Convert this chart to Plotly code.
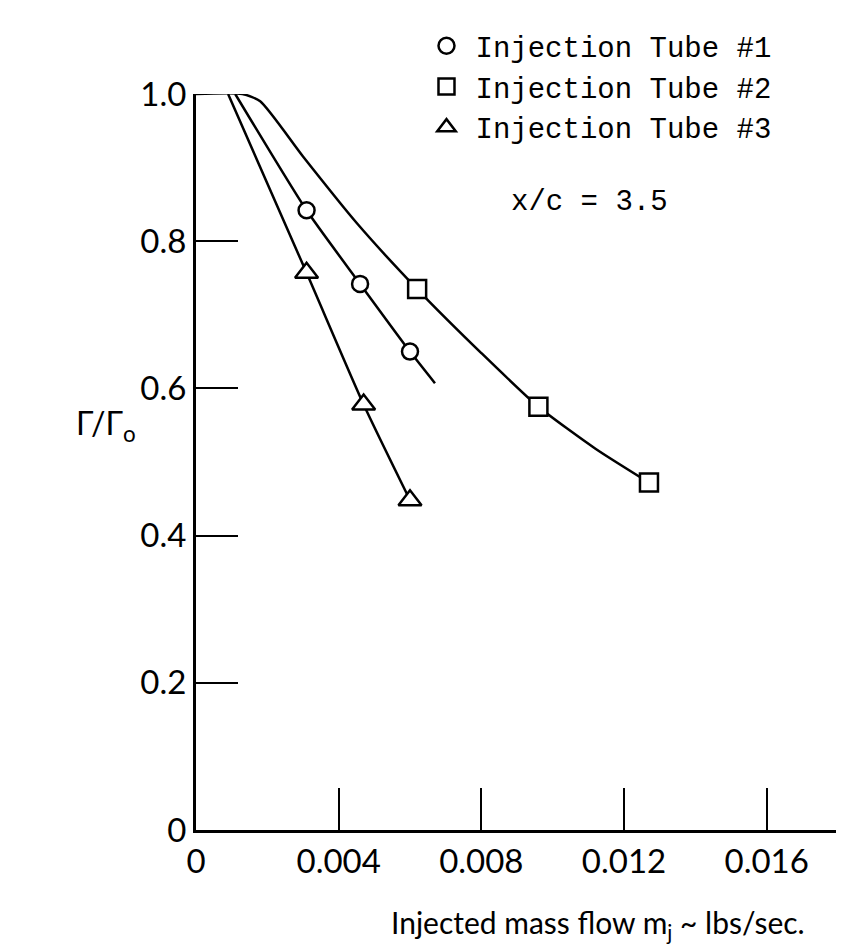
import plotly.graph_objects as go

# ---- data ----
tube1_x = [0.0031, 0.0046, 0.0060]
tube1_y = [0.842, 0.742, 0.650]
tube2_x = [0.0062, 0.0096, 0.0127]
tube2_y = [0.735, 0.575, 0.472]
tube3_x = [0.0031, 0.0047, 0.0060]
tube3_y = [0.757, 0.578, 0.448]

# faired curves drawn through the points
curve1_x = [0.0011, 0.0031, 0.0046, 0.0060, 0.0067]
curve1_y = [1.000, 0.842, 0.742, 0.650, 0.607]
curve2_x = [0.0, 0.0013, 0.0018, 0.0030, 0.0045, 0.0062, 0.0080, 0.0096, 0.0112, 0.0127]
curve2_y = [1.000, 1.000, 0.990, 0.915, 0.825, 0.735, 0.648, 0.575, 0.518, 0.472]
curve3_x = [0.0009, 0.0031, 0.0047, 0.0060]
curve3_y = [1.000, 0.757, 0.578, 0.448]

x_ticks = [0, 0.004, 0.008, 0.012, 0.016]
x_ticktext = ["0", "0.004", "0.008", "0.012", "0.016"]
y_ticks = [0, 0.2, 0.4, 0.6, 0.8, 1.0]
y_ticktext = ["0", "0.2", "0.4", "0.6", "0.8", "1.0"]

names = ["Injection Tube #1", "Injection Tube #2", "Injection Tube #3"]

fig = go.Figure()
line_style = dict(color="black", width=2.5)
for cx, cy in [(curve1_x, curve1_y), (curve2_x, curve2_y), (curve3_x, curve3_y)]:
    fig.add_trace(go.Scatter(x=cx, y=cy, mode="lines",
                             line=dict(shape="spline", smoothing=0.6, **line_style),
                             showlegend=False, hoverinfo="skip", cliponaxis=False))

for xs, ys, sym, size, nm in [(tube1_x, tube1_y, "circle", 16, names[0]),
                              (tube2_x, tube2_y, "square", 18, names[1]),
                              (tube3_x, tube3_y, "triangle-up", 20, names[2])]:
    fig.add_trace(go.Scatter(x=xs, y=ys, mode="markers", name=nm, cliponaxis=False,
                             marker=dict(symbol=sym, size=size, color="white",
                                         line=dict(color="black", width=2.5))))

fig.update_layout(
    width=844, height=950,
    margin=dict(l=188, r=14, t=74, b=128),
    paper_bgcolor="white", plot_bgcolor="white",
    font=dict(family="Lato", color="black"),
    legend=dict(x=0.345, y=1.10, xanchor="left", yanchor="top",
                font=dict(family="Liberation Mono", size=29, color="black"),
                bgcolor="rgba(0,0,0,0)", itemwidth=48, tracegroupgap=0),
    xaxis=dict(range=[0, 0.018], tickvals=x_ticks, ticktext=x_ticktext,
               showgrid=False, zeroline=False, showline=True, linecolor="black", linewidth=3,
               ticks="inside", ticklen=42, tickwidth=2, tickcolor="black",
               tickfont=dict(size=33, family="Lato")),
    yaxis=dict(range=[0, 1.0], tickvals=y_ticks, ticktext=y_ticktext,
               showgrid=False, zeroline=False, showline=True, linecolor="black", linewidth=3,
               ticks="inside", ticklen=42, tickwidth=2, tickcolor="black",
               tickfont=dict(size=33, family="Lato")),
)

fig.add_annotation(text="Injected mass flow m<sub>j</sub> ~ lbs/sec.", xref="paper", yref="paper",
                   x=0.626, y=-0.128, xanchor="center", yanchor="middle", showarrow=False,
                   font=dict(family="Lato", size=30, color="black"))
fig.add_annotation(text="x/c = 3.5", xref="paper", yref="paper", x=0.487, y=0.852,
                   xanchor="left", yanchor="middle", showarrow=False,
                   font=dict(family="Liberation Mono", size=29, color="black"))
fig.add_annotation(text="Γ/Γ<sub>o</sub>", xref="paper", yref="paper", x=-0.09, y=0.55,
                   xanchor="right", yanchor="middle", showarrow=False,
                   font=dict(family="Lato", size=32, color="black"))

fig.write_html("out.html")
